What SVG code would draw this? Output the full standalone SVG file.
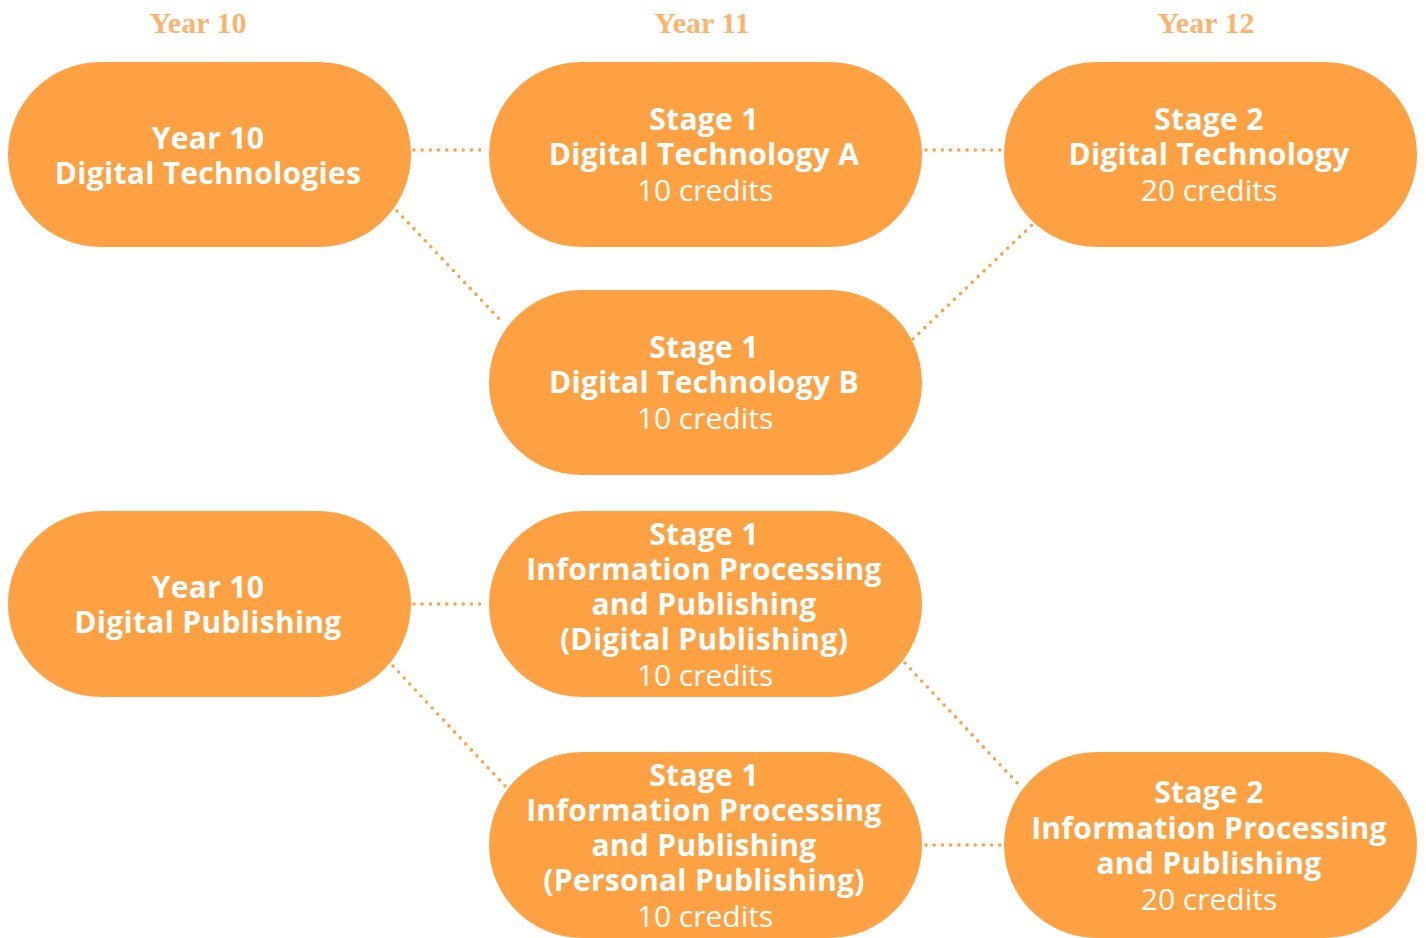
<svg xmlns="http://www.w3.org/2000/svg" width="1426" height="938" viewBox="0 0 1426 938">
  <style>
    .pill { fill: #FDA143; }
    .head { font-family: "Liberation Serif", serif; font-weight: bold; font-size: 30px; fill: #FBB46D; text-anchor: middle; }
    .t { font-family: "Open Sans", "Noto Sans", sans-serif; font-size: 30px; fill: #FFFFFF; text-anchor: middle; }
    .b { font-weight: bold; letter-spacing: 0.3px; }
    .link { fill: none; stroke: #FDA143; stroke-width: 3.6; stroke-linecap: round; stroke-dasharray: 0 8.2; }
  </style>
  <rect width="1426" height="938" fill="#FFFFFF"/>

  <!-- column headings -->
  <g id="headings">
    <text class="head" x="198" y="33">Year 10</text>
    <text class="head" x="702" y="33">Year 11</text>
    <text class="head" x="1206" y="33">Year 12</text>
  </g>

  <!-- dotted pathways -->
  <g id="connectors">
    <line class="link" x1="414" y1="150" x2="487" y2="150"/>
    <line class="link" x1="397" y1="211" x2="504" y2="324"/>
    <line class="link" x1="926" y1="150" x2="1001" y2="150"/>
    <line class="link" x1="913" y1="339" x2="1034" y2="223"/>
    <line class="link" x1="414" y1="604" x2="487" y2="604"/>
    <line class="link" x1="393" y1="666" x2="507" y2="788"/>
    <line class="link" x1="905" y1="663" x2="1019" y2="785"/>
    <line class="link" x1="926" y1="845" x2="1001" y2="845"/>
  </g>

  <g id="y10-digital-technologies">
    <rect class="pill" x="8" y="62" width="403" height="185" rx="92.5"/>
    <text class="t b" x="208" y="149">Year 10</text>
    <text class="t b" x="208" y="184">Digital Technologies</text>
  </g>

  <g id="s1-digital-technology-a">
    <rect class="pill" x="489" y="62" width="433" height="185" rx="92.5"/>
    <text class="t b" x="704" y="130">Stage 1</text>
    <text class="t b" x="704" y="165">Digital Technology A</text>
    <text class="t" x="705" y="201">10 credits</text>
  </g>

  <g id="s2-digital-technology">
    <rect class="pill" x="1004" y="62" width="413" height="185" rx="92.5"/>
    <text class="t b" x="1209" y="130">Stage 2</text>
    <text class="t b" x="1209" y="165">Digital Technology</text>
    <text class="t" x="1209" y="201">20 credits</text>
  </g>

  <g id="s1-digital-technology-b">
    <rect class="pill" x="489" y="290" width="433" height="185" rx="92.5"/>
    <text class="t b" x="704" y="358">Stage 1</text>
    <text class="t b" x="704" y="393">Digital Technology B</text>
    <text class="t" x="705" y="429">10 credits</text>
  </g>

  <g id="y10-digital-publishing">
    <rect class="pill" x="8" y="511" width="403" height="186" rx="93"/>
    <text class="t b" x="208" y="598">Year 10</text>
    <text class="t b" x="208" y="633">Digital Publishing</text>
  </g>

  <g id="s1-ipp-digital">
    <rect class="pill" x="489" y="511" width="433" height="186" rx="93"/>
    <text class="t b" x="704" y="545">Stage 1</text>
    <text class="t b" x="704" y="580">Information Processing</text>
    <text class="t b" x="704" y="615">and Publishing</text>
    <text class="t b" x="704" y="650">(Digital Publishing)</text>
    <text class="t" x="705" y="686">10 credits</text>
  </g>

  <g id="s1-ipp-personal">
    <rect class="pill" x="489" y="752" width="433" height="186" rx="93"/>
    <text class="t b" x="704" y="786">Stage 1</text>
    <text class="t b" x="704" y="821">Information Processing</text>
    <text class="t b" x="704" y="856">and Publishing</text>
    <text class="t b" x="704" y="891">(Personal Publishing)</text>
    <text class="t" x="705" y="927">10 credits</text>
  </g>

  <g id="s2-ipp">
    <rect class="pill" x="1004" y="752" width="413" height="186" rx="93"/>
    <text class="t b" x="1209" y="803">Stage 2</text>
    <text class="t b" x="1209" y="839">Information Processing</text>
    <text class="t b" x="1209" y="874">and Publishing</text>
    <text class="t" x="1209" y="910">20 credits</text>
  </g>
</svg>
